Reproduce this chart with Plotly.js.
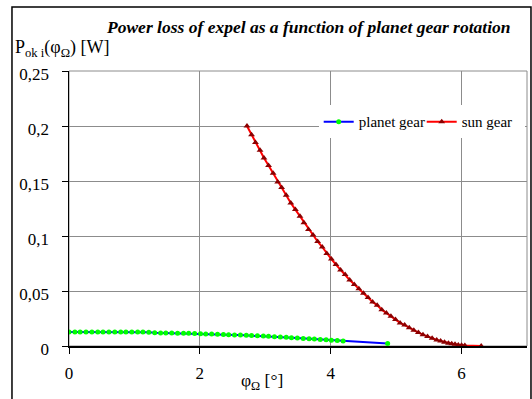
<!DOCTYPE html>
<html>
<head>
<meta charset="utf-8">
<script src="https://cdn.plot.ly/plotly-3.0.1.min.js"></script>
<style>html,body{margin:0;padding:0;background:#fff;overflow:hidden;}#chart{width:532px;height:399px;}</style>
</head>
<body>
<div id="chart"></div>
<script>
const planetX = [0, 0.09, 0.17, 0.26, 0.35, 0.44, 0.52, 0.61, 0.70, 0.79, 0.87, 0.96, 1.05, 1.13,
  1.22, 1.31, 1.40, 1.48, 1.57, 1.66, 1.75, 1.83, 1.92, 2.01, 2.09, 2.18, 2.27, 2.36, 2.44, 2.53,
  2.62, 2.71, 2.79, 2.88, 2.97, 3.05, 3.14, 3.23, 3.32, 3.40, 3.49, 3.58, 3.67, 3.75, 3.84, 3.93,
  4.01, 4.10, 4.19, 4.87];
const planetY = [0.0127, 0.0127, 0.0127, 0.0127, 0.0127, 0.0127, 0.0127, 0.0127, 0.0127, 0.0127, 0.0127, 0.0127, 0.0127, 0.0127,
  0.0124, 0.0120, 0.0119, 0.0118, 0.0118, 0.0117, 0.0116, 0.0115, 0.0114, 0.0112, 0.0110, 0.0108, 0.0106, 0.0105, 0.0103, 0.0101,
  0.0099, 0.0097, 0.0095, 0.0093, 0.0090, 0.0088, 0.0085, 0.0082, 0.0079, 0.0075, 0.0072, 0.0069, 0.0066, 0.0063, 0.0060, 0.0056,
  0.0053, 0.0050, 0.0046, 0.0023];
const sunX = [2.72, 2.79, 2.85, 2.92, 2.98, 3.05, 3.12, 3.19, 3.25, 3.32, 3.39, 3.46, 3.53, 3.59, 3.66, 3.73,
  3.80, 3.87, 3.94, 4.01, 4.08, 4.15, 4.22, 4.29, 4.36, 4.43, 4.50, 4.57, 4.64, 4.71, 4.78, 4.85, 4.92,
  4.99, 5.06, 5.13, 5.20, 5.27, 5.34, 5.41, 5.48, 5.55, 5.62, 5.68, 5.74, 5.80, 5.85, 5.90, 5.95, 6.00, 6.05, 6.30];
const sunY = [0.200, 0.192, 0.185, 0.178, 0.171, 0.164, 0.157, 0.149, 0.144, 0.137, 0.130, 0.124, 0.118, 0.112, 0.106, 0.101,
  0.095, 0.090, 0.084, 0.079, 0.074, 0.069, 0.065, 0.060, 0.056, 0.052, 0.048, 0.044, 0.040, 0.037, 0.033, 0.030, 0.027,
  0.024, 0.021, 0.019, 0.0165, 0.0143, 0.0122, 0.0103, 0.0086, 0.0070, 0.0055, 0.0045, 0.0035, 0.0026, 0.0020, 0.0015, 0.0010, 0.0007, 0.0005, 0.0];
const xTicks = [0, 2, 4, 6];
const yTicks = [0, 0.05, 0.1, 0.15, 0.2, 0.25];
const yTickText = ['0', '0,05', '0,1', '0,15', '0,2', '0,25'];
const seriesNames = ['planet gear', 'sun gear'];
const titleText = '<b><i>Power loss of expel as a function of planet gear rotation</i></b>';
const yTitleText = 'P<sub>ok i</sub>(φ<sub>Ω</sub>) [W]';
const xTitleText = 'φ<sub>Ω</sub> [°]';

const FONT = '"Liberation Serif"';

const traces = [
  {x: planetX, y: planetY, name: seriesNames[0], type: 'scatter', mode: 'lines+markers',
   line: {color: '#0000ff', width: 2}, marker: {color: '#00ff00', size: 5, symbol: 'circle'}},
  {x: sunX, y: sunY, name: seriesNames[1], type: 'scatter', mode: 'lines+markers',
   line: {color: '#ff0000', width: 2}, marker: {color: '#8b0000', size: 6, symbol: 'triangle-up'}}
];

const layout = {
  width: 532, height: 399,
  margin: {l: 69, r: 5, t: 71, b: 53},
  paper_bgcolor: '#fff', plot_bgcolor: '#fff',
  font: {family: FONT, size: 17, color: '#000'},
  showlegend: true,
  legend: {orientation: 'h', x: 0.995, y: 0.875, xanchor: 'right', yanchor: 'top',
           bgcolor: '#fff', borderwidth: 0, font: {family: FONT, size: 15, color: '#000'},
           tracegroupgap: 0, itemwidth: 30, entrywidth: 58},
  xaxis: {range: [0, 7], tickvals: xTicks, ticktext: xTicks.map(String),
          showgrid: true, gridcolor: '#8c8c8c', gridwidth: 1,
          showline: true, linecolor: '#000', linewidth: 1.5,
          ticks: 'outside', ticklen: 6, tickcolor: '#000', ticklabelstandoff: 5,
          zeroline: false, tickfont: {family: FONT, size: 17, color: '#000'}, fixedrange: true, automargin: false},
  yaxis: {range: [0, 0.25], tickvals: yTicks, ticktext: yTickText,
          showgrid: true, gridcolor: '#8c8c8c', gridwidth: 1,
          showline: true, linecolor: '#000', linewidth: 1.5,
          ticks: 'outside', ticklen: 6, tickcolor: '#000', ticklabelstandoff: 9, ticklabelshift: 3,
          zeroline: false, tickfont: {family: FONT, size: 17, color: '#000'}, fixedrange: true, automargin: false},
  shapes: [
    {type: 'rect', xref: 'paper', yref: 'paper', x0: 0, x1: 1, y0: 0, y1: 1,
     line: {color: '#8c8c8c', width: 1}, layer: 'below'},
    {type: 'rect', xref: 'paper', yref: 'paper', x0: -0.1245, x1: 1.0087, y0: -0.3, y1: 1.2327,
     line: {color: '#000', width: 1.5}, fillcolor: 'rgba(0,0,0,0)'}
  ],
  annotations: [
    {text: titleText, xref: 'paper', yref: 'paper', x: 0.522, y: 1.16, xanchor: 'center', yanchor: 'middle',
     showarrow: false, font: {family: FONT, size: 17.5, color: '#000'}},
    {text: yTitleText, xref: 'paper', yref: 'paper', x: -0.122, y: 1.08, xanchor: 'left', yanchor: 'middle',
     showarrow: false, font: {family: FONT, size: 18, color: '#000'}},
    {text: xTitleText, xref: 'paper', yref: 'paper', x: 0.422, y: -0.128, xanchor: 'center', yanchor: 'middle',
     showarrow: false, font: {family: FONT, size: 17.5, color: '#000'}}
  ]
};

Plotly.newPlot('chart', traces, layout, {displayModeBar: false, staticPlot: true});
</script>
</body>
</html>
